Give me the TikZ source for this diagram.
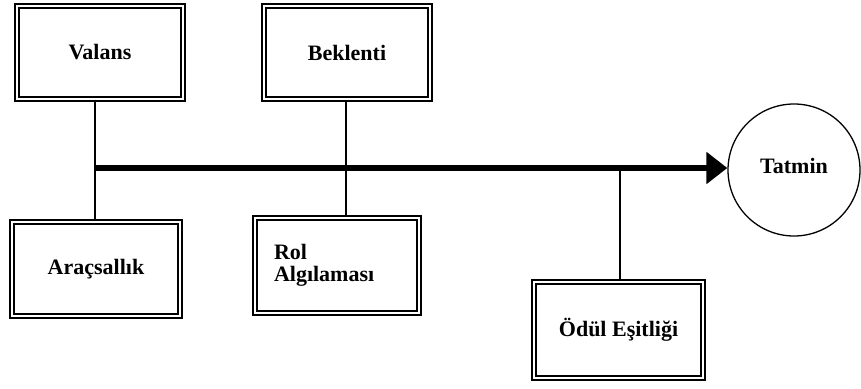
\documentclass[tikz,border=0pt]{standalone}
\usepackage{fontspec}
\setmainfont{Liberation Serif}
\usetikzlibrary{arrows.meta}
\begin{document}
\begin{tikzpicture}[x=1pt,y=-1pt,
  factor/.style={draw=black, line width=1.4pt, double=white, double distance=2.6pt,
    rectangle, inner sep=0pt, font=\bfseries\fontsize{22}{26}\selectfont},
  goal/.style={draw=black, line width=1.3pt, circle, inner sep=0pt,
    minimum size=132pt, font=\bfseries\fontsize{22}{26}\selectfont},
  link/.style={line width=2.6pt},
  mainline/.style={line width=5.5pt, -{Triangle[length=21pt,width=31pt]}}]
\useasboundingbox (0,0) rectangle (861,388);

% factor boxes
\node[factor, minimum width=166pt, minimum height=93pt] (valans) at (100,52.5) {Valans};
\node[factor, minimum width=166pt, minimum height=93pt] (beklenti) at (347,52.5) {Beklenti};
\node[factor, minimum width=168pt, minimum height=94pt] (arac) at (96,269) {Araçsallık};
\node[factor, minimum width=164pt, minimum height=95pt, align=left,
      text width=126pt] (rol) at (337,265.5) {Rol\\[-4pt]Algılaması\\[24pt]};
\node[factor, minimum width=169pt, minimum height=96pt] (odul) at (618.5,330) {Ödül Eşitliği};

% outcome
\node[goal] (tatmin) at (794,170) {\raisebox{8pt}{Tatmin}};

% junction points on the main line
\coordinate (j1) at (95,168);
\coordinate (j2) at (346,168);
\coordinate (j3) at (620,168);

% connectors
\draw[link] (valans.south -| j1) -- (arac.north -| j1);
\draw[link] (beklenti.south -| j2) -- (rol.north -| j2);
\draw[link] (j3) -- (odul.north -| j3);
\draw[mainline] ([xshift=-1.3pt]j1) -- (tatmin.west |- j1);
\end{tikzpicture}
\end{document}
